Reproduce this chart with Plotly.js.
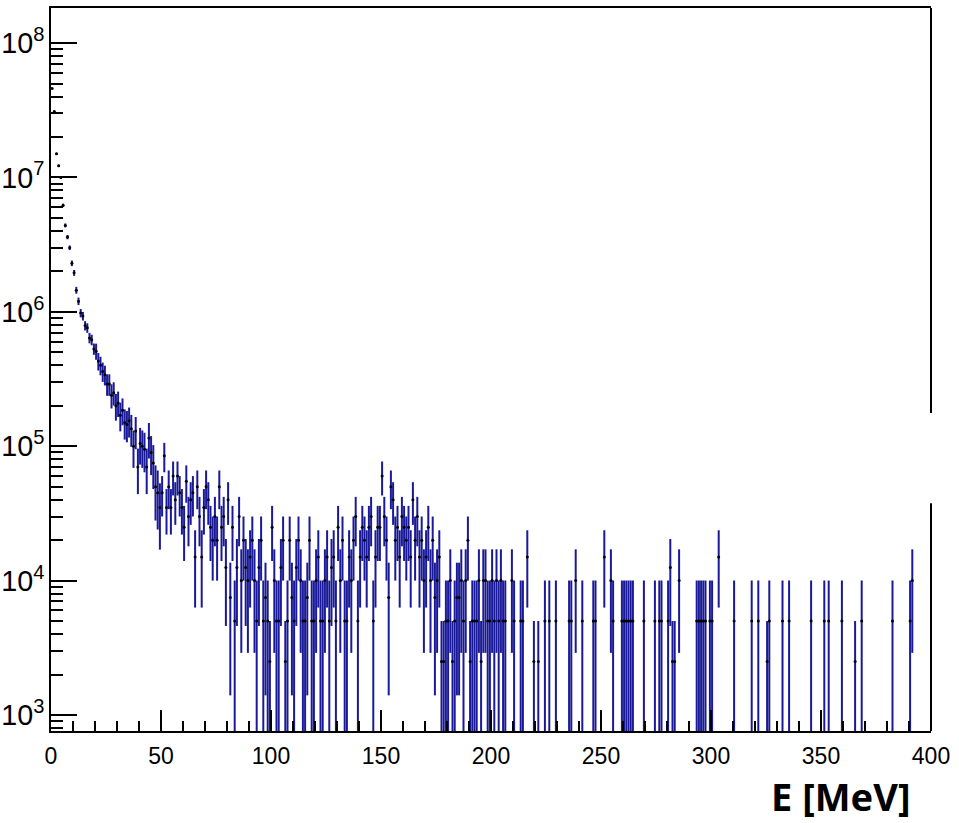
<!DOCTYPE html>
<html>
<head>
<meta charset="utf-8">
<script src="https://cdn.plot.ly/plotly-3.0.1.min.js"></script>
<style>html,body{margin:0;padding:0;background:#fff;}</style>
</head>
<body>
<div id="chart" style="width:959px;height:823px;"></div>
<script>
// Histogram: 1 MeV bins from 0 to 400 MeV
// Dense part: bins 0..206 (bin i covers [i, i+1) MeV)
const headContent = [
  4.6e7, 3.1e7, 1.5e7, 1.22e7, 1.0e7, 6.2e6, 4.4e6, 3.6e6, 3.0e6, 2.3e6,
  1.95e6, 1.45e6, 1.2e6, 9.8e5, 9.3e5, 7.9e5, 7.6e5, 6.4e5, 6.2e5, 5.3e5,
  5.1e5, 4.3e5, 4.0e5, 3.6e5, 3.4e5, 2.9e5, 2.9e5, 2.4e5, 2.5e5, 2.0e5,
  2.1e5, 1.7e5, 1.85e5, 1.5e5, 1.45e5, 1.55e5, 1.35e5, 1.0e5, 1.3e5, 7.0e4,
  1.05e5, 1.0e5, 9.5e4, 7.0e4, 1.15e5, 9.0e4, 7.5e4, 5.0e4, 4.5e4, 3.5e4,
  4.5e4, 8.5e4, 3.5e4, 5.0e4, 3.5e4, 6.0e4, 4.0e4, 6.0e4, 4.5e4, 3.5e4,
  2.5e4, 5.5e4, 3.0e4, 4.0e4, 4.5e4, 1.5e4, 5.0e4, 3.0e4, 1.5e4, 3.5e4,
  5.0e4, 4.0e4, 2.5e4, 2.0e4, 3.0e4, 2.0e4, 5.0e4, 2.5e4, 3.0e4, 1.25e4,
  4.0e4, 7.5e3, 2.5e4, 5.0e3, 1.25e4, 3.0e4, 1.0e4, 2.0e4, 1.25e4, 1.0e4,
  1.5e4, 2.0e4, 1.0e4, 5.0e3, 1.25e4, 2.0e4, 5.0e3, 7.5e3, 5.0e3, 2.5e3,
  2.5e4, 1.0e4, 5.0e3, 5.0e3, 1.25e4, 2.0e4, 2.5e3, 5.0e3, 2.0e4, 7.5e3,
  5.0e3, 1.25e4, 2.0e4, 1.0e4, 5.0e3, 5.0e3, 7.5e3, 2.0e4, 5.0e3, 5.0e3,
  1.0e4, 1.5e4, 5.0e3, 5.0e3, 1.0e4, 1.5e4, 5.0e3, 1.25e4, 1.5e4, 5.0e3,
  2.5e4, 1.0e4, 2.0e4, 5.0e3, 5.0e3, 1.5e4, 1.0e4, 2.0e4, 3.0e4, 5.0e3,
  1.5e4, 2.5e4, 2.0e4, 1.5e4, 2.5e4, 3.0e4, 5.0e3, 1.5e4, 2.5e4, 2.5e4,
  6.0e4, 3.0e4, 2.0e4, 7.5e3, 5.0e4, 4.0e4, 2.0e4, 2.5e4, 1.5e4, 3.0e4,
  2.5e4, 2.0e4, 2.5e4, 1.5e4, 4.0e4, 2.0e4, 3.0e4, 1.5e4, 2.0e4, 1.0e4,
  1.5e4, 2.5e4, 1.0e4, 2.0e4, 7.5e3, 1.0e4, 1.5e4, 2.5e3, 2.5e3, 5.0e3,
  5.0e3, 1.0e4, 2.5e3, 5.0e3, 7.5e3, 7.5e3, 1.0e4, 5.0e3, 1.0e4, 2.0e4,
  2.5e3, 5.0e3, 5.0e3, 5.0e3, 1.0e4, 2.5e3, 1.0e4, 1.0e4, 5.0e3, 5.0e3,
  1.0e4, 5.0e3, 1.0e4, 5.0e3, 1.0e4, 5.0e3, 5.0e3
];
const headError = [
  4.8e5, 3.9e5, 2.7e5, 2.5e5, 2.2e5, 1.8e5, 1.5e5, 1.3e5, 1.2e5, 1.1e5,
  9.9e4, 8.5e4, 7.7e4, 7.0e4, 6.8e4, 6.3e4, 6.2e4, 5.7e4, 5.6e4, 5.1e4,
  7.0e4, 6.4e4, 6.3e4, 5.9e4, 5.7e4, 5.3e4, 5.3e4, 4.9e4, 4.9e4, 4.5e4,
  4.5e4, 4.1e4, 4.2e4, 3.8e4, 3.8e4, 3.9e4, 3.6e4, 3.1e4, 3.5e4, 2.6e4,
  3.2e4, 3.1e4, 3.1e4, 2.6e4, 3.4e4, 2.9e4, 2.7e4, 2.2e4, 2.1e4, 1.8e4,
  1.5e4, 2.1e4, 1.3e4, 1.6e4, 1.3e4, 1.7e4, 1.4e4, 1.7e4, 1.5e4, 1.3e4,
  1.1e4, 1.7e4, 1.2e4, 1.4e4, 1.5e4, 8.7e3, 1.6e4, 1.2e4, 8.7e3, 1.3e4,
  1.6e4, 1.4e4, 1.1e4, 1.0e4, 1.2e4, 1.0e4, 1.6e4, 1.1e4, 1.2e4, 7.9e3,
  1.4e4, 6.1e3, 1.1e4, 5.0e3, 7.9e3, 1.2e4, 7.1e3, 1.0e4, 7.9e3, 7.1e3,
  8.7e3, 1.0e4, 7.1e3, 5.0e3, 7.9e3, 1.0e4, 5.0e3, 6.1e3, 5.0e3, 2.5e3,
  1.1e4, 7.1e3, 5.0e3, 5.0e3, 7.9e3, 1.0e4, 2.5e3, 5.0e3, 1.0e4, 6.1e3,
  5.0e3, 7.9e3, 1.0e4, 7.1e3, 5.0e3, 5.0e3, 6.1e3, 1.0e4, 5.0e3, 5.0e3,
  7.1e3, 8.7e3, 5.0e3, 5.0e3, 7.1e3, 8.7e3, 5.0e3, 7.9e3, 8.7e3, 5.0e3,
  1.1e4, 7.1e3, 1.0e4, 5.0e3, 5.0e3, 8.7e3, 7.1e3, 1.0e4, 1.2e4, 5.0e3,
  8.7e3, 1.1e4, 1.0e4, 8.7e3, 1.1e4, 1.2e4, 5.0e3, 8.7e3, 1.1e4, 1.1e4,
  1.7e4, 1.2e4, 1.0e4, 6.1e3, 1.6e4, 1.4e4, 1.0e4, 1.1e4, 8.7e3, 1.2e4,
  1.1e4, 1.0e4, 1.1e4, 8.7e3, 1.4e4, 1.0e4, 1.2e4, 8.7e3, 1.0e4, 7.1e3,
  8.7e3, 1.1e4, 7.1e3, 1.0e4, 6.1e3, 7.1e3, 8.7e3, 2.5e3, 2.5e3, 5.0e3,
  5.0e3, 7.1e3, 2.5e3, 5.0e3, 6.1e3, 6.1e3, 7.1e3, 5.0e3, 7.1e3, 1.0e4,
  2.5e3, 5.0e3, 5.0e3, 5.0e3, 7.1e3, 2.5e3, 7.1e3, 7.1e3, 5.0e3, 5.0e3,
  7.1e3, 5.0e3, 7.1e3, 5.0e3, 7.1e3, 5.0e3, 5.0e3
];
// Sparse tail: only the non-empty bins above 206 MeV
const tailBins = [
  209, 210, 213, 214, 216, 219, 221, 224, 226, 229,
  235, 236, 238, 241, 246, 247, 251, 254, 255, 259,
  260, 261, 262, 263, 264, 269, 274, 276, 277, 280,
  281, 282, 283, 285, 293, 294, 295, 296, 297, 299,
  300, 303, 310, 318, 321, 325, 326, 332, 335, 345,
  351, 353, 359, 365, 368, 382, 390, 391
];
const tailContent = [
  1.0e4, 5.0e3, 5.0e3, 5.0e3, 1.5e4, 2.5e3, 2.5e3, 5.0e3, 5.0e3, 5.0e3,
  5.0e3, 5.0e3, 1.0e4, 5.0e3, 5.0e3, 5.0e3, 1.5e4, 1.0e4, 5.0e3, 5.0e3,
  5.0e3, 5.0e3, 5.0e3, 5.0e3, 5.0e3, 5.0e3, 5.0e3, 5.0e3, 5.0e3, 5.0e3,
  1.25e4, 2.5e3, 2.5e3, 1.0e4, 5.0e3, 5.0e3, 5.0e3, 5.0e3, 5.0e3, 5.0e3,
  5.0e3, 1.5e4, 5.0e3, 5.0e3, 5.0e3, 2.5e3, 5.0e3, 5.0e3, 5.0e3, 5.0e3,
  5.0e3, 5.0e3, 5.0e3, 2.5e3, 5.0e3, 5.0e3, 5.0e3, 1.0e4
];
const tailError = [
  7.1e3, 5.0e3, 5.0e3, 5.0e3, 8.7e3, 2.5e3, 2.5e3, 5.0e3, 5.0e3, 5.0e3,
  5.0e3, 5.0e3, 7.1e3, 5.0e3, 5.0e3, 5.0e3, 8.7e3, 7.1e3, 5.0e3, 5.0e3,
  5.0e3, 5.0e3, 5.0e3, 5.0e3, 5.0e3, 5.0e3, 5.0e3, 5.0e3, 5.0e3, 5.0e3,
  7.9e3, 2.5e3, 2.5e3, 7.1e3, 5.0e3, 5.0e3, 5.0e3, 5.0e3, 5.0e3, 5.0e3,
  5.0e3, 8.7e3, 5.0e3, 5.0e3, 5.0e3, 2.5e3, 5.0e3, 5.0e3, 5.0e3, 5.0e3,
  5.0e3, 5.0e3, 5.0e3, 2.5e3, 5.0e3, 5.0e3, 5.0e3, 7.1e3
];
const xTitle = 'E [MeV]';

// assemble bin centres / contents / errors
const energy = [], content = [], error = [];
headContent.forEach(function (v, i) { energy.push(i + 0.5); content.push(v); error.push(headError[i]); });
tailBins.forEach(function (b, i) { energy.push(b + 0.5); content.push(tailContent[i]); error.push(tailError[i]); });

const trace = {
  type: 'scatter',
  mode: 'markers',
  x: energy,
  y: content,
  marker: { color: 'black', size: 3 },
  error_y: { type: 'data', array: error, visible: true, color: '#1a1a99', thickness: 2, width: 0 },
  hoverinfo: 'x+y'
};

const layout = {
  width: 959,
  height: 823,
  margin: { l: 51, r: 28, t: 8, b: 92, pad: 0 },
  paper_bgcolor: 'white',
  plot_bgcolor: 'white',
  showlegend: false,
  font: { family: '"Liberation Sans", Arial, sans-serif', color: 'black' },
  xaxis: {
    range: [0, 400],
    tickmode: 'linear', tick0: 0, dtick: 50,
    ticks: 'inside', ticklen: 21, tickwidth: 2, tickcolor: 'black',
    showline: true, linewidth: 2, linecolor: 'black', mirror: true,
    showgrid: false, zeroline: false,
    tickfont: { size: 23 },
    ticklabelstandoff: 3,
    minor: { dtick: 10, ticks: 'inside', ticklen: 10, tickwidth: 2, tickcolor: 'black', showgrid: false }
  },
  yaxis: {
    type: 'log',
    range: [2.881, 8.261],
    tickmode: 'linear', tick0: 0, dtick: 1,
    exponentformat: 'power',
    ticks: 'inside', ticklen: 26, tickwidth: 2, tickcolor: 'black',
    showline: true, linewidth: 2, linecolor: 'black', mirror: false,
    showgrid: false, zeroline: false,
    tickfont: { size: 23 },
    minor: { dtick: 'D1', ticks: 'inside', ticklen: 12, tickwidth: 2, tickcolor: 'black', showgrid: false }
  },
  shapes: [
    { type: 'line', xref: 'paper', yref: 'paper', x0: 1, x1: 1, y0: 0, y1: 0.315, line: { color: 'black', width: 2 } },
    { type: 'line', xref: 'paper', yref: 'paper', x0: 1, x1: 1, y0: 0.44, y1: 1, line: { color: 'black', width: 2 } }
  ],
  annotations: [
    {
      text: '<b>' + xTitle + '</b>',
      xref: 'paper', yref: 'paper',
      x: 0.98, xanchor: 'right',
      y: -0.09, yanchor: 'middle',
      showarrow: false,
      font: { family: '"Noto Sans", "Open Sans", sans-serif', size: 38, color: 'black' }
    }
  ]
};

Plotly.newPlot('chart', [trace], layout, { displayModeBar: false, staticPlot: true });
</script>
</body>
</html>
